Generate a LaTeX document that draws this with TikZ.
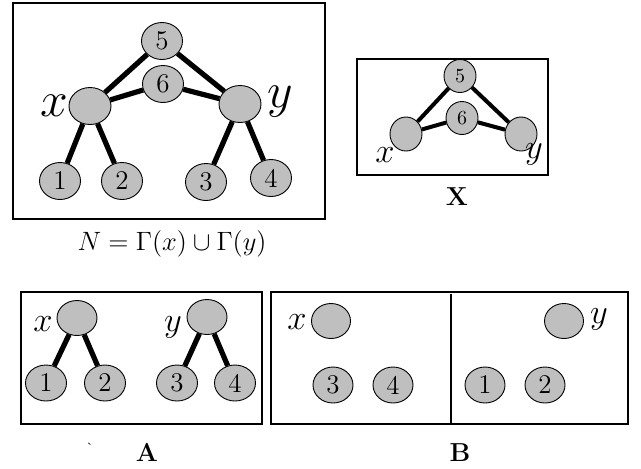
\documentclass[tikz,border=0pt]{standalone}
\usetikzlibrary{shapes.geometric}

\begin{document}
\begin{tikzpicture}[x=0.5pt, y=-0.5pt,
    vtx/.style={draw, ellipse, fill=black!25, line width=0.45pt,
                minimum width=20.5pt, minimum height=18.5pt, inner sep=0pt,
                font=\fontsize{13.5}{13.5}\selectfont},
    svtx/.style={vtx, minimum width=16pt, minimum height=16.5pt,
                 font=\fontsize{10}{10}\selectfont},
    edge/.style={line width=2.6pt},
    sedge/.style={line width=2pt},
    frame/.style={draw, line width=0.6pt},
    capt/.style={font=\fontsize{13}{13}\selectfont\bfseries}]

  \useasboundingbox (0,0) rectangle (641,468);

  % N = Gamma(x) u Gamma(y)
  \draw[frame] (13,3) rectangle (325,219);
  \node[vtx] (t5) at (162,41) {5};
  \node[vtx] (t6) at (163,84) {6};
  \node[vtx, minimum width=21pt] (tx) at (90,106) {};
  \node[vtx, minimum width=21pt] (ty) at (240,104) {};
  \node[vtx] (t1) at (60,181) {1};
  \node[vtx] (t2) at (122,181) {2};
  \node[vtx] (t3) at (206,182) {3};
  \node[vtx] (t4) at (271,178) {4};
  \foreach \a/\b in {t5/tx, t5/ty, t6/tx, t6/ty, tx/t1, tx/t2, ty/t3, ty/t4}
    \draw[edge] (\a) -- (\b);
  \node[font=\fontsize{26}{26}\selectfont] (tlx) at (54,106) {$x$};
  \node[font=\fontsize{26}{26}\selectfont] (tly) at (280,102) {$y$};
  \node[font=\fontsize{13.5}{13.5}\selectfont, scale=0.92] (capN) at (172,244)
    {$N=\Gamma(x)\cup\Gamma(y)$};

  % X
  \draw[frame] (357,59) rectangle (548,175);
  \node[svtx] (k5) at (460,76) {5};
  \node[svtx] (k6) at (462,118) {6};
  \node[svtx, minimum height=17pt] (kx) at (406,134) {};
  \node[svtx, minimum height=17pt] (ky) at (521,134) {};
  \foreach \a/\b in {k5/kx, k5/ky, k6/kx, k6/ky}
    \draw[sedge] (\a) -- (\b);
  \node[font=\fontsize{19}{19}\selectfont] (klx) at (385,155) {$x$};
  \node[font=\fontsize{19}{19}\selectfont] (kly) at (534,154) {$y$};
  \node[capt] (capX) at (457,197) {X};

  % A
  \draw[frame] (21,292) rectangle (262,424);
  \node[vtx, minimum width=20pt, minimum height=17.5pt] (ax) at (77,318) {};
  \node[vtx, minimum width=20pt, minimum height=17.5pt] (ay) at (207,317) {};
  \node[vtx, minimum height=18pt] (a1) at (46,383) {1};
  \node[vtx, minimum height=18pt] (a2) at (105,383) {2};
  \node[vtx, minimum height=18pt] (a3) at (177,383) {3};
  \node[vtx, minimum height=18pt] (a4) at (235,383) {4};
  \foreach \a/\b in {ax/a1, ax/a2, ay/a3, ay/a4}
    \draw[edge] (\a) -- (\b);
  \node[font=\fontsize{18}{18}\selectfont] (alx) at (43,324) {$x$};
  \node[font=\fontsize{18}{18}\selectfont] (aly) at (173,327) {$y$};
  \node[font=\fontsize{6}{6}\selectfont] (tick) at (90,447) {\`{}};
  \node[capt] (capA) at (147,452) {A};

  % B
  \draw[frame] (271,292) rectangle (628,424);
  \coordinate (btop) at (451,294);
  \coordinate (bbot) at (451,424);
  \draw[line width=0.6pt] (btop) -- (bbot);
  \node[vtx, minimum width=19.5pt, minimum height=17.5pt] (bx) at (331,321) {};
  \node[vtx, minimum width=19.5pt, minimum height=17.5pt] (by) at (564,321) {};
  \node[vtx, minimum width=20pt, minimum height=18pt] (b3) at (333,385) {3};
  \node[vtx, minimum width=20pt, minimum height=18pt] (b4) at (393,385) {4};
  \node[vtx, minimum width=20pt, minimum height=18pt] (b1) at (485,385) {1};
  \node[vtx, minimum width=20pt, minimum height=18pt] (b2) at (545,385) {2};
  \node[font=\fontsize{19}{19}\selectfont] (blx) at (297,322) {$x$};
  \node[font=\fontsize{19}{19}\selectfont] (bly) at (599,319) {$y$};
  \node[capt] (capB) at (460,453) {B};
\end{tikzpicture}
\end{document}
